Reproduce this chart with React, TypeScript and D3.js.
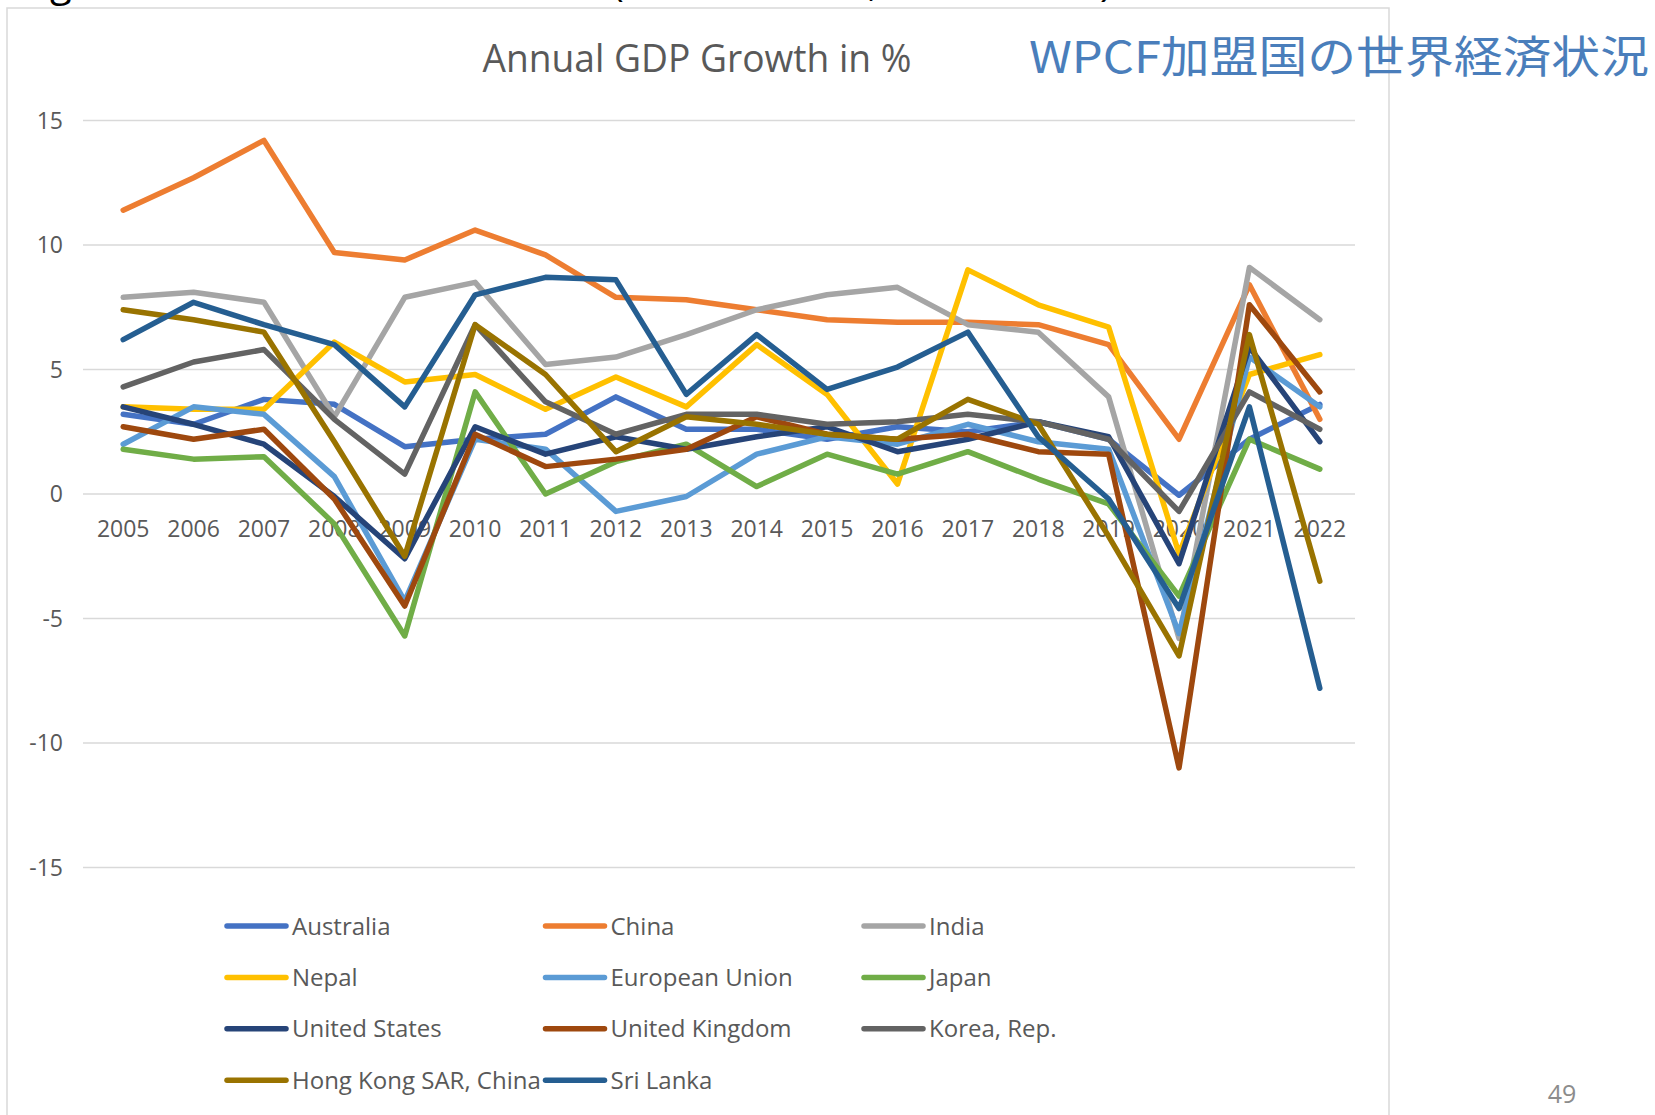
import React from 'react';
import * as d3 from 'd3';

const years = ['2005', '2006', '2007', '2008', '2009', '2010', '2011', '2012', '2013', '2014', '2015', '2016', '2017', '2018', '2019', '2020', '2021', '2022'];
const yTicks = [15, 10, 5, 0, -5, -10, -15];

const australia = [3.2, 2.8, 3.8, 3.6, 1.9, 2.2, 2.4, 3.9, 2.6, 2.6, 2.2, 2.7, 2.5, 2.9, 2.2, -0.05, 2.2, 3.6];
const china = [11.4, 12.7, 14.2, 9.7, 9.4, 10.6, 9.6, 7.9, 7.8, 7.4, 7.0, 6.9, 6.9, 6.8, 6.0, 2.2, 8.4, 3.0];
const india = [7.9, 8.1, 7.7, 3.1, 7.9, 8.5, 5.2, 5.5, 6.4, 7.4, 8.0, 8.3, 6.8, 6.5, 3.9, -5.8, 9.1, 7.0];
const nepal = [3.5, 3.4, 3.4, 6.1, 4.5, 4.8, 3.4, 4.7, 3.5, 6.0, 4.0, 0.4, 9.0, 7.6, 6.7, -2.4, 4.8, 5.6];
const eu = [2.0, 3.5, 3.2, 0.7, -4.3, 2.2, 1.8, -0.7, -0.1, 1.6, 2.3, 2.0, 2.8, 2.1, 1.8, -5.6, 5.5, 3.5];
const japan = [1.8, 1.4, 1.5, -1.2, -5.7, 4.1, 0.0, 1.3, 2.0, 0.3, 1.6, 0.8, 1.7, 0.6, -0.4, -4.1, 2.2, 1.0];
const us = [3.5, 2.8, 2.0, -0.1, -2.6, 2.7, 1.6, 2.3, 1.8, 2.3, 2.7, 1.7, 2.2, 2.9, 2.3, -2.8, 5.9, 2.1];
const uk = [2.7, 2.2, 2.6, -0.2, -4.5, 2.4, 1.1, 1.4, 1.8, 3.1, 2.4, 2.2, 2.4, 1.7, 1.6, -11.0, 7.6, 4.1];
const korea = [4.3, 5.3, 5.8, 3.0, 0.8, 6.8, 3.7, 2.4, 3.2, 3.2, 2.8, 2.9, 3.2, 2.9, 2.2, -0.7, 4.1, 2.6];
const hongKong = [7.4, 7.0, 6.5, 2.1, -2.5, 6.8, 4.8, 1.7, 3.1, 2.8, 2.4, 2.2, 3.8, 2.8, -1.7, -6.5, 6.4, -3.5];
const sriLanka = [6.2, 7.7, 6.8, 6.0, 3.5, 8.0, 8.7, 8.6, 4.0, 6.4, 4.2, 5.1, 6.5, 2.3, -0.2, -4.6, 3.5, -7.8];

const seriesNames = ['Australia', 'China', 'India', 'Nepal', 'European Union', 'Japan', 'United States', 'United Kingdom', 'Korea, Rep.', 'Hong Kong SAR, China', 'Sri Lanka'];
const seriesValues = [australia, china, india, nepal, eu, japan, us, uk, korea, hongKong, sriLanka];
const seriesColors = ['#4472C4', '#ED7D31', '#A5A5A5', '#FFC000', '#5B9BD5', '#70AD47', '#264478', '#9E480E', '#636363', '#997300', '#255E91'];

const font = '"Open Sans", "Noto Sans", sans-serif';
const textColor = '#595959';

export default function App() {
  const x = d3.scaleBand<string>().domain(years).range([88, 1355]);
  const y = d3.scaleLinear().domain([-15, 15]).range([867.5, 120.5]);
  const cx = (yr: string) => (x(yr) ?? 0) + x.bandwidth() / 2;

  const line = d3.line<number>()
    .x((_, i) => cx(years[i]))
    .y(d => y(d));

  // legend: 3 columns
  const legendX = (i: number) => 227 + (i % 3) * 318.5;
  const legendY = (i: number) => 926 + Math.floor(i / 3) * 51.4;

  return (
    <svg width={1655} height={1115} style={{ position: 'absolute', left: 0, top: 0, background: '#fff' }}>
      {/* cut-off heading of the slide, only its lowest parts show */}
      <g fontFamily={font} fontSize={40} fill="#000">
        <text x={50} y={-4}>g</text>
        <text x={612} y={-4}>(</text>
        <text x={868} y={-4}>,</text>
        <text x={1100} y={-4}>)</text>
      </g>

      {/* chart frame */}
      <path d="M7,1115 V8 H1389 V1115" fill="none" stroke="#d9d9d9" strokeWidth={1.5} />

      <text x={697} y={72} textAnchor="middle" fontFamily={font} fontSize={38} fill={textColor}
        textLength={429} lengthAdjust="spacingAndGlyphs">Annual GDP Growth in %</text>

      <text x={1029} y={73} fontFamily='"Noto Sans CJK JP", sans-serif' fontSize={44} fill="#4a7ebb"
        textLength={620} lengthAdjust="spacingAndGlyphs">WPCF加盟国の世界経済状況</text>

      {yTicks.map(t => (
        <g key={t}>
          <line x1={83} x2={1355} y1={y(t)} y2={y(t)} stroke="#d9d9d9" strokeWidth={1.5} />
          <text x={63} y={y(t)} dy="0.36em" textAnchor="end" fontFamily={font} fontSize={23} fill={textColor}>{t}</text>
        </g>
      ))}

      {years.map(yr => (
        <text key={yr} x={cx(yr)} y={y(0)} dy={43} textAnchor="middle" fontFamily={font} fontSize={23} fill={textColor}>{yr}</text>
      ))}

      {seriesValues.map((vals, i) => (
        <path key={seriesNames[i]} d={line(vals) ?? ''} fill="none" stroke={seriesColors[i]}
          strokeWidth={5.5} strokeLinejoin="round" strokeLinecap="round" />
      ))}

      {seriesNames.map((name, i) => (
        <g key={name}>
          <line x1={legendX(i)} x2={legendX(i) + 59} y1={legendY(i)} y2={legendY(i)} stroke={seriesColors[i]}
            strokeWidth={5.5} strokeLinecap="round" />
          <text x={legendX(i) + 65} y={legendY(i)} dy="0.36em" fontFamily={font} fontSize={24} fill={textColor}>{name}</text>
        </g>
      ))}

      <text x={1562} y={1103} textAnchor="middle" fontFamily={font} fontSize={25} fill="#8c8c8c">49</text>
    </svg>
  );
}
